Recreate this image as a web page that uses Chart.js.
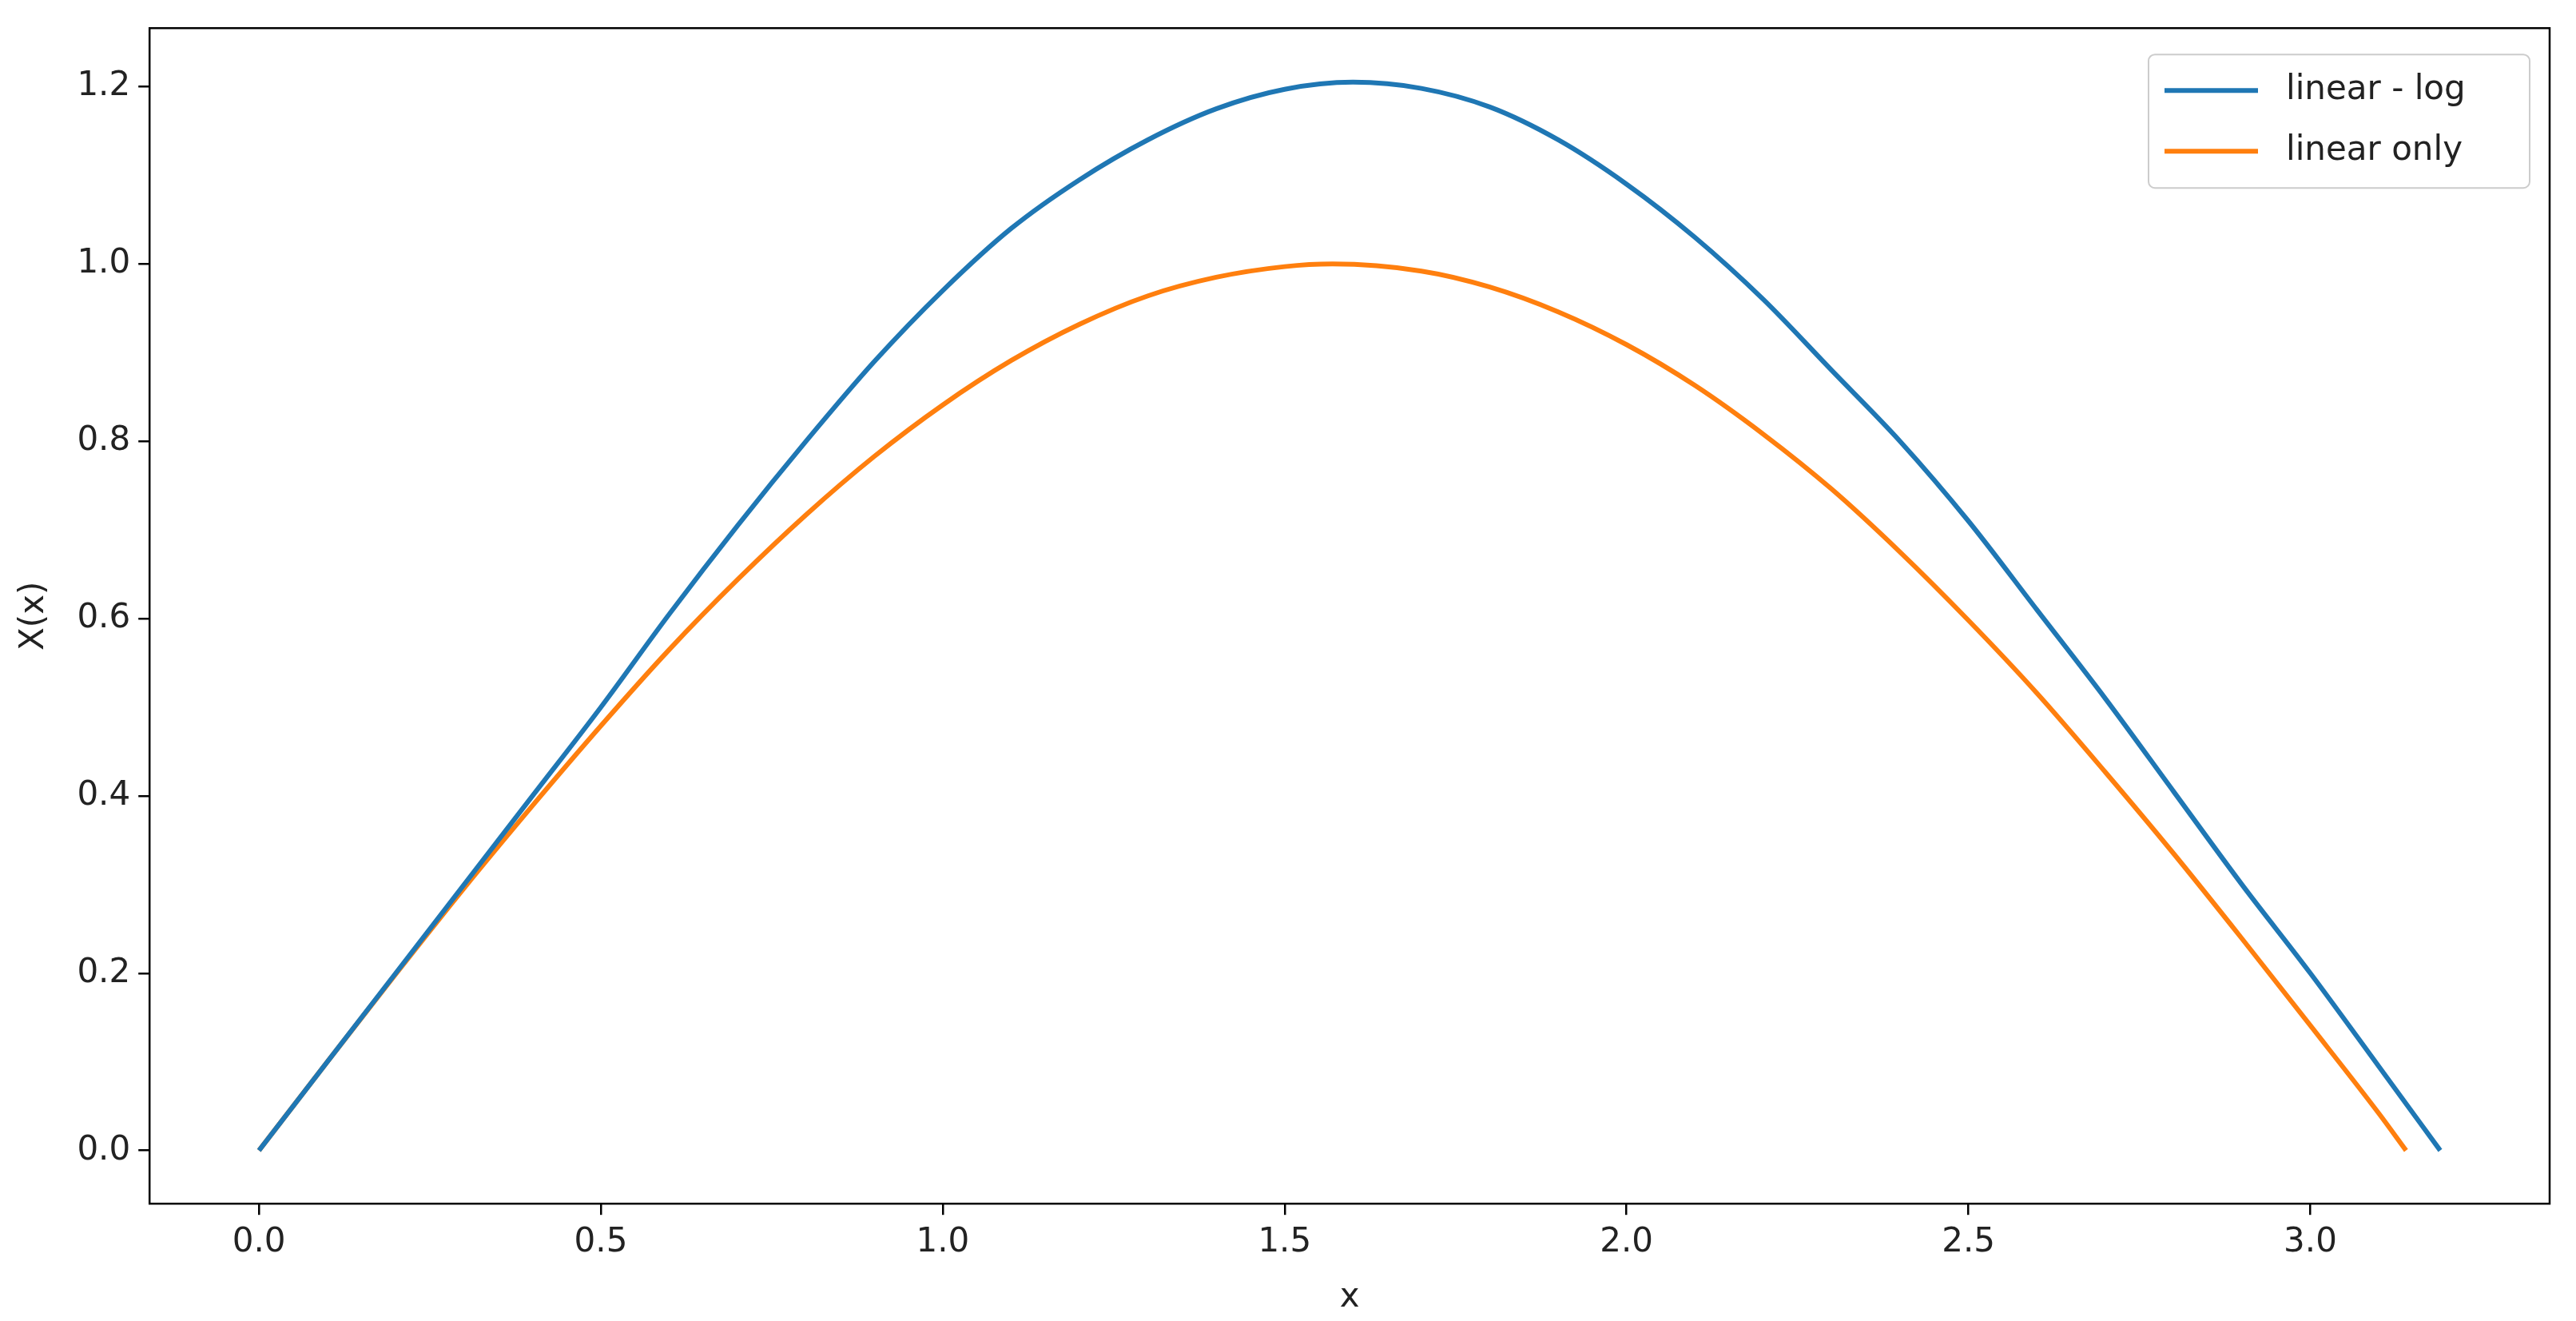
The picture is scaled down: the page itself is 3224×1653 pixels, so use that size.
<!DOCTYPE html>
<html>
<head>
<meta charset="utf-8">
<script src="https://cdn.jsdelivr.net/npm/chart.js@4/dist/chart.umd.min.js"></script>
<style>
html, body { margin: 0; padding: 0; background: #fff; }
#wrap { width: 3224px; height: 1653px; }
</style>
</head>
<body>
<div id="wrap"><canvas id="chart"></canvas></div>
<script>
// values
const xLinLog = [0, 0.1, 0.2, 0.3, 0.4, 0.5, 0.6, 0.7, 0.8, 0.9, 1.0, 1.1, 1.2, 1.3, 1.4, 1.5, 1.6,
                 1.7, 1.8, 1.9, 2.0, 2.1, 2.2, 2.3, 2.4, 2.5, 2.6, 2.7, 2.8, 2.9, 3.0, 3.1, 3.19];
const yLinLog = [0, 0.10, 0.20, 0.30, 0.40, 0.50, 0.605, 0.705, 0.80, 0.89, 0.97, 1.04, 1.095, 1.14, 1.175, 1.197, 1.205,
                 1.198, 1.177, 1.14, 1.09, 1.03, 0.96, 0.88, 0.80, 0.71, 0.61, 0.51, 0.405, 0.30, 0.20, 0.095, 0];
const xLin = [0, 0.1, 0.2, 0.3, 0.4, 0.5, 0.6, 0.7, 0.8, 0.9, 1.0, 1.1, 1.2, 1.3, 1.4, 1.5, 1.57,
              1.7, 1.8, 1.9, 2.0, 2.1, 2.2, 2.3, 2.4, 2.5, 2.6, 2.7, 2.8, 2.9, 3.0, 3.1, 3.14];
const yLin = [0, 0.10, 0.199, 0.296, 0.389, 0.479, 0.565, 0.644, 0.717, 0.783, 0.841, 0.891, 0.932, 0.964, 0.985, 0.997, 1.0,
              0.992, 0.974, 0.946, 0.909, 0.863, 0.808, 0.746, 0.675, 0.598, 0.516, 0.427, 0.335, 0.239, 0.141, 0.042, 0];
const seriesNames = ['linear - log', 'linear only'];
const colors = ['#1f77b4', '#ff7f0e'];

const toPts = (xs, ys) => xs.map((x, i) => ({ x: x, y: ys[i] }));
const font = { family: 'DejaVu Sans', size: 42 };

// frame around the plot + legend box in the upper right, matplotlib style
const framePlugin = {
    id: 'frame',
    afterDraw(chart) {
        const ctx = chart.ctx;
        const a = chart.chartArea;
        ctx.save();
        ctx.strokeStyle = '#000';
        ctx.lineWidth = 2.5;
        ctx.strokeRect(a.left, a.top, a.right - a.left, a.bottom - a.top);

        const w = 477, h = 167;
        const bx = a.right - w - 25, by = a.top + 33;
        ctx.fillStyle = 'rgba(255,255,255,0.8)';
        ctx.strokeStyle = '#ccc';
        ctx.lineWidth = 2;
        ctx.beginPath();
        ctx.roundRect(bx, by, w, h, 8);
        ctx.fill();
        ctx.stroke();
        ctx.font = '42px DejaVu Sans';
        ctx.textBaseline = 'middle';
        seriesNames.forEach((name, i) => {
            const cy = by + 45 + i * 76;
            ctx.strokeStyle = colors[i];
            ctx.lineWidth = 6;
            ctx.beginPath();
            ctx.moveTo(bx + 20, cy);
            ctx.lineTo(bx + 137, cy);
            ctx.stroke();
            ctx.fillStyle = '#222';
            ctx.fillText(name, bx + 172, cy);
        });
        ctx.restore();
    }
};

new Chart(document.getElementById('chart'), {
    type: 'scatter',
    data: {
        datasets: [
            { label: seriesNames[0], data: toPts(xLinLog, yLinLog), showLine: true, cubicInterpolationMode: 'monotone',
              borderColor: colors[0], borderWidth: 6, pointRadius: 0 },
            { label: seriesNames[1], data: toPts(xLin, yLin), showLine: true, cubicInterpolationMode: 'monotone',
              borderColor: colors[1], borderWidth: 6, pointRadius: 0 }
        ]
    },
    options: {
        responsive: true,
        maintainAspectRatio: false,
        animation: false,
        layout: { padding: { top: 29, right: 33, left: 14, bottom: 0 } },
        plugins: { legend: { display: false }, tooltip: { enabled: false } },
        scales: {
            x: {
                type: 'linear', min: -0.16, max: 3.35,
                afterBuildTicks: s => { s.ticks = [0, 0.5, 1, 1.5, 2, 2.5, 3].map(v => ({ value: v })); },
                ticks: { font: font, color: '#222', padding: 10, callback: v => v.toFixed(1) },
                grid: { drawOnChartArea: false, tickLength: 14, color: '#000', lineWidth: 2.5 },
                border: { display: false },
                title: { display: true, text: 'x', font: font, color: '#222', padding: { top: 8 } }
            },
            y: {
                min: -0.06, max: 1.266,
                afterBuildTicks: s => { s.ticks = [0, 0.2, 0.4, 0.6, 0.8, 1.0, 1.2].map(v => ({ value: v })); },
                ticks: { font: font, color: '#222', padding: 10, callback: v => v.toFixed(1) },
                grid: { drawOnChartArea: false, tickLength: 14, color: '#000', lineWidth: 2.5 },
                border: { display: false },
                title: { display: true, text: 'X(x)', font: font, color: '#222', padding: { bottom: 18 } }
            }
        }
    },
    plugins: [framePlugin]
});
</script>
</body>
</html>
